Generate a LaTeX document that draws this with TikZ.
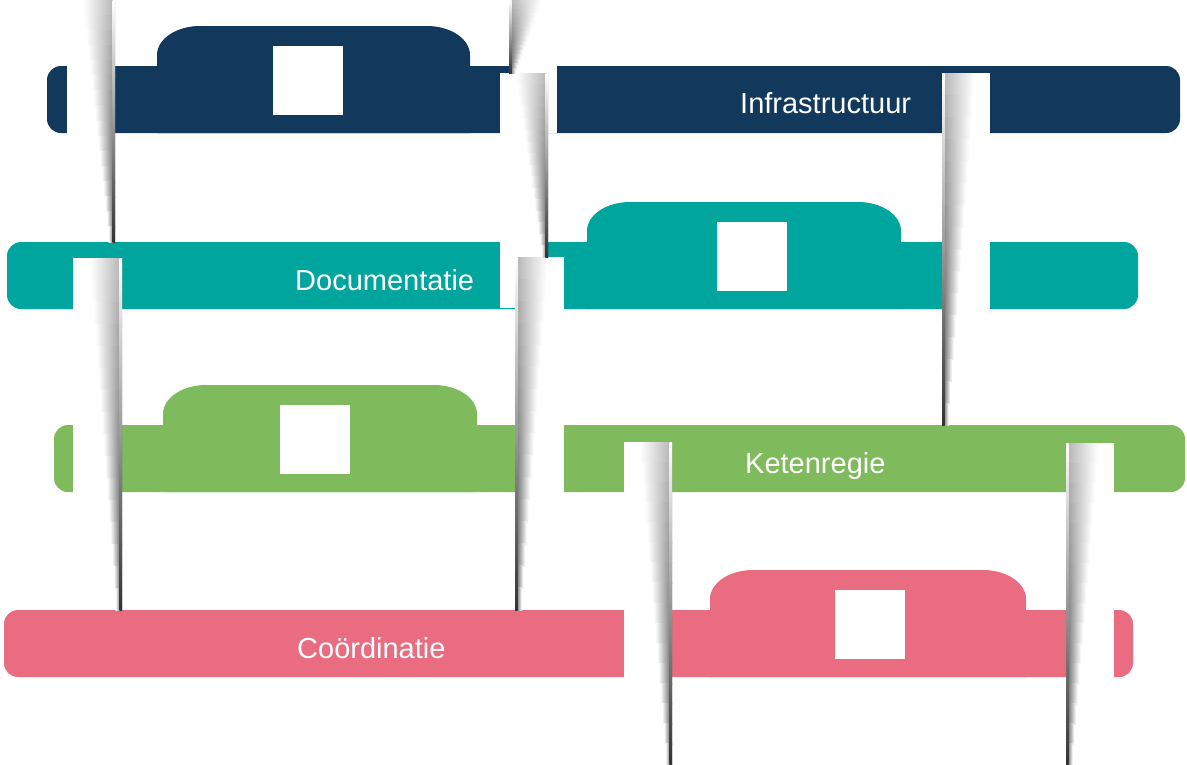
\documentclass[tikz,border=0pt]{standalone}
\usepackage{fontspec}
\setmainfont{Liberation Sans}
\definecolor{infrablue}{RGB}{18,57,92}
\definecolor{docteal}{RGB}{0,165,157}
\definecolor{ketengreen}{RGB}{127,186,93}
\definecolor{coordpink}{RGB}{233,108,129}
\tikzset{
  bandbar/.style={rounded corners=14pt},
  bandtext/.style={text=white, font=\fontsize{29}{32}\selectfont, inner sep=0pt, anchor=base west},
  foldcut/.style={fill=white},
}
\begin{document}
\begin{tikzpicture}[x=1pt, y=-1pt]
 \useasboundingbox (0,0) rectangle (1187,764);

 %bands with tab and hole
 \foreach \col/\dy/\bl/\br/\tl/\tr/\sq in {infrablue/66/47/1180/157/470/273, docteal/242/7/1138/587/901/717, ketengreen/425/54/1185/163/477/280, coordpink/610/4/1133/710/1026/835} {
         \fill[\col, bandbar] (\bl,\dy) rectangle (\br,\dy+67);
         \fill[\col] (\tl,\dy+67) -- (\tl,\dy-11) arc[start angle=180, end angle=270, x radius=43, y radius=29]
              -- (\tr-43,\dy-40) arc[start angle=270, end angle=360, x radius=43, y radius=29] -- (\tr,\dy+67) -- cycle;
         \fill[white] (\sq,\dy-20) rectangle (\sq+70,\dy+49);
 }

 %texts
 \node[bandtext] (infra) at (740,113) {Infrastructuur};
 \node[bandtext] (docu) at (295,290) {Documentatie};
 \node[bandtext] (keten) at (745,473) {Ketenregie};
 \node[bandtext] (coord) at (297,658) {Coördinatie};

 %white cuts
 \foreach \xa/\ya/\xb/\yb in {67/0/115/242, 509/0/557/73, 500/73/548/308, 548/73/557/133, 942/73/990/425, 73/258/122/610, 515/257/564/610, 624/442/672/764, 1066/443/1114/764} {
         \fill[foldcut] (\xa,\ya) rectangle (\xb,\yb);
 }

 %folds, dark edge left (slices, narrower and darker going down)
 \foreach \xe/\ya/\yb in {509/0/73, 942/73/425, 515/257/610, 1066/443/764} {
     \foreach \k in {0,...,15} {
         \pgfmathsetmacro\w{32-1.7*\k}
         \pgfmathsetmacro\yt{\ya+(\yb-\ya)*\k/16}
         \pgfmathsetmacro\ys{\ya+(\yb-\ya)*(\k+1)/16+0.6}
         \pgfmathsetmacro\dk{int(30+3*\k)}
         \shade[left color=black!\dk, right color=white] (\xe,\yt) rectangle (\xe+\w,\ys);
     }
     \shade[top color=white, bottom color=black!80] (\xe,\ya) rectangle (\xe+2.5,\yb);
 }

 %folds, dark edge right
 \foreach \xe/\ya/\yb in {115/0/242, 548/73/257, 122/258/610, 672/442/764} {
     \foreach \k in {0,...,15} {
         \pgfmathsetmacro\w{32-1.7*\k}
         \pgfmathsetmacro\yt{\ya+(\yb-\ya)*\k/16}
         \pgfmathsetmacro\ys{\ya+(\yb-\ya)*(\k+1)/16+0.6}
         \pgfmathsetmacro\dk{int(30+3*\k)}
         \shade[left color=white, right color=black!\dk] (\xe-\w,\yt) rectangle (\xe,\ys);
     }
     \shade[top color=white, bottom color=black!80] (\xe-2.5,\ya) rectangle (\xe,\yb);
 }

\end{tikzpicture}
\end{document}
